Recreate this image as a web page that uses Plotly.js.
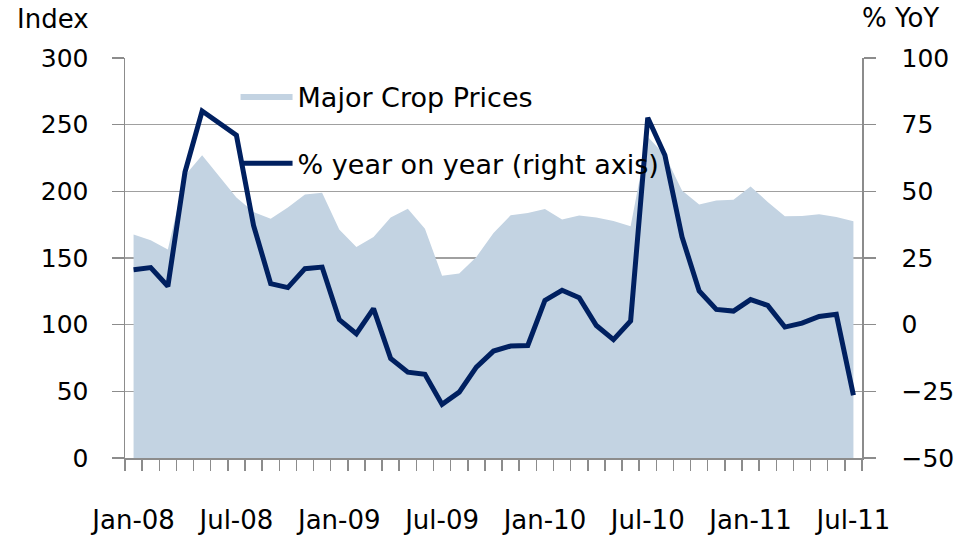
<!DOCTYPE html>
<html>
<head>
<meta charset="utf-8">
<script src="https://cdn.plot.ly/plotly-3.0.1.min.js"></script>
<style>html,body{margin:0;padding:0;background:#fff;}#chart{width:957px;height:537px;}</style>
</head>
<body>
<div id="chart"></div>
<script>
// Months Jan-08 .. Jul-11 (43 months)
const months = ["Jan-08","Feb-08","Mar-08","Apr-08","May-08","Jun-08","Jul-08","Aug-08","Sep-08","Oct-08","Nov-08","Dec-08",
"Jan-09","Feb-09","Mar-09","Apr-09","May-09","Jun-09","Jul-09","Aug-09","Sep-09","Oct-09","Nov-09","Dec-09",
"Jan-10","Feb-10","Mar-10","Apr-10","May-10","Jun-10","Jul-10","Aug-10","Sep-10","Oct-10","Nov-10","Dec-10",
"Jan-11","Feb-11","Mar-11","Apr-11","May-11","Jun-11","Jul-11"];
// Major crop price index (left axis)
const cropPrices = [167.6,163.3,156.3,211.9,227.0,211.2,195.3,184.5,179.5,187.8,197.7,199.0,
171.3,158.3,165.8,180.3,187.0,172.0,136.6,138.4,150.8,168.8,182.0,183.8,
186.7,178.8,181.8,180.3,177.8,173.8,241.0,227.0,200.7,190.2,193.2,193.7,
203.7,192.0,181.3,181.5,182.8,180.8,177.5];
// % year on year (right axis)
const yoy = [20.6,21.4,14.4,57.2,80.1,75.6,71.0,37.2,15.4,13.9,21.0,21.6,
1.9,-3.4,6.0,-12.7,-17.8,-18.6,-29.9,-25.3,-15.9,-9.9,-8.0,-7.8,
9.1,12.9,10.1,-0.3,-5.6,1.4,77.6,63.5,32.9,12.6,5.7,5.1,
9.4,7.2,-0.9,0.6,3.1,3.9,-26.5];
const labelEvery = 6;

const idx = months.map((m,i)=>i);
const labelVals = idx.filter(i=>i%labelEvery===0);
const labelText = labelVals.map(i=>months[i]);

const FONT = "DejaVu Sans";
const traces = [
  {x: idx, y: cropPrices, name: "Major Crop Prices", type: "scatter", mode: "lines",
   fill: "tozeroy", fillcolor: "#c3d3e2", line: {width: 0, color: "#c3d3e2"},
   legendgroup: "a", hoverinfo: "skip"},
  {x: idx, y: yoy, name: "% year on year (right axis)", type: "scatter", mode: "lines",
   yaxis: "y2", line: {width: 5, color: "#002060"}, legendgroup: "b"}
];
const layout = {
  width: 957, height: 537,
  margin: {l: 125, r: 95.3, t: 57.7, b: 78.7},
  paper_bgcolor: "#ffffff", plot_bgcolor: "#ffffff",
  font: {family: FONT, size: 24, color: "#000"},
  showlegend: true,
  legend: {x: 0.15, y: 0.965, xanchor: "left", yanchor: "top", bgcolor: "rgba(0,0,0,0)",
           font: {family: FONT, size: 27, color: "#000"}, traceorder: "grouped",
           tracegroupgap: 29, itemwidth: 52},
  xaxis: {range: [-0.5, 42.5], tickmode: "array", tickvals: labelVals, ticktext: labelText,
          ticks: "", showgrid: false, zeroline: false, showline: true, linecolor: "#8c8c8c", linewidth: 1.5,
          ticklabelstandoff: 38, tickfont: {family: FONT, size: 26},
          minor: {tick0: -0.5, dtick: 1, ticks: "outside", ticklen: 11, tickcolor: "#8c8c8c", tickwidth: 1.5, showgrid: false}},
  yaxis: {range: [0, 300], dtick: 50, tick0: 0, showgrid: true, gridcolor: "#a0a0a0", gridwidth: 1.5,
          zeroline: false, showline: true, linecolor: "#8c8c8c", linewidth: 1.5,
          ticks: "outside", ticklen: 12, tickcolor: "#8c8c8c", tickwidth: 1.5, ticklabelstandoff: 18,
          tickfont: {family: FONT, size: 25}},
  yaxis2: {range: [-50, 100], dtick: 25, tick0: 0, overlaying: "y", side: "right", showgrid: false,
           zeroline: false, showline: true, linecolor: "#8c8c8c", linewidth: 1.5,
           ticks: "outside", ticklen: 12, tickcolor: "#8c8c8c", tickwidth: 1.5, ticklabelstandoff: 21,
           tickfont: {family: FONT, size: 25}},
  annotations: [
    {text: "Index", xref: "paper", yref: "paper", x: -0.149, y: 1.097, xanchor: "left", yanchor: "middle",
     showarrow: false, font: {family: FONT, size: 26, color: "#000"}},
    {text: "% YoY", xref: "paper", yref: "paper", x: 0.997, y: 1.1, xanchor: "left", yanchor: "middle",
     showarrow: false, font: {family: FONT, size: 26, color: "#000"}}
  ]
};
Plotly.newPlot("chart", traces, layout, {displayModeBar: false, staticPlot: true});
</script>
</body>
</html>
